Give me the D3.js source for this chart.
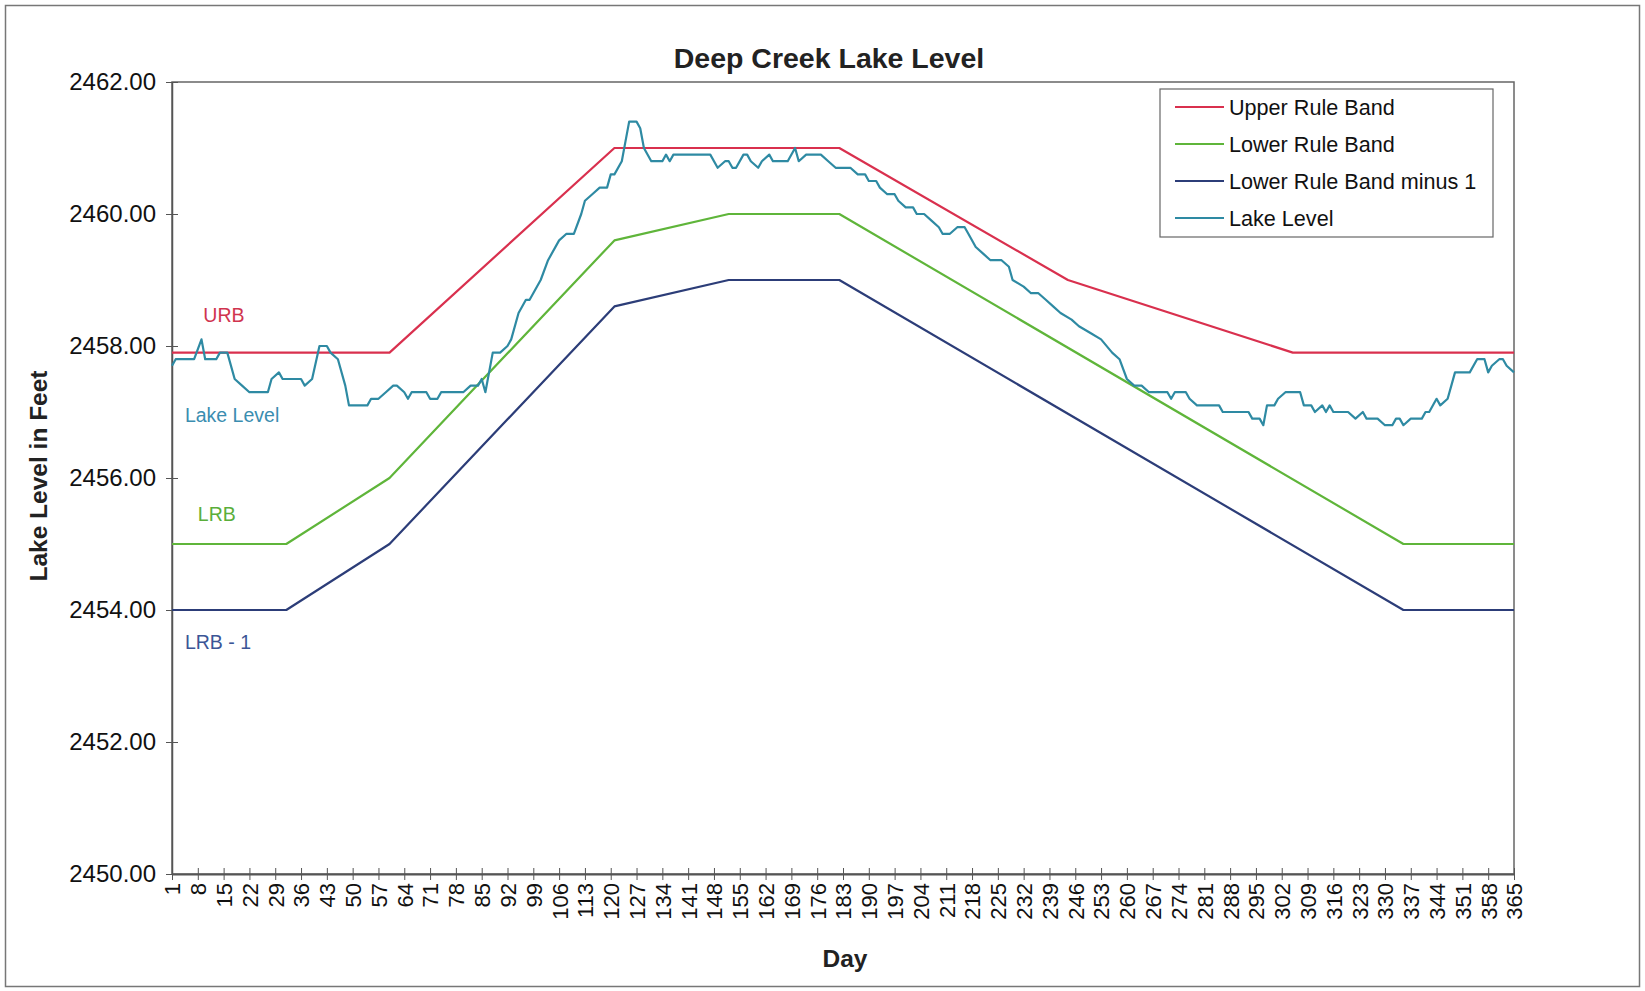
<!DOCTYPE html>
<html>
<head>
  <meta charset="UTF-8">
  <script src="https://d3js.org/d3.v7.min.js"></script>
  <style>
    body { margin: 0; background: #fff; }
    .axis path, .axis line { stroke: #555; }
  </style>
</head>
<body>
  <div id="chart"></div>
  <script>
    // x axis tick labels (day of year)
    const dayTicks = [1, 8, 15, 22, 29, 36, 43, 50, 57, 64, 71, 78, 85, 92, 99, 106, 113, 120, 127, 134,
      141, 148, 155, 162, 169, 176, 183, 190, 197, 204, 211, 218, 225, 232, 239, 246, 253, 260, 267, 274,
      281, 288, 295, 302, 309, 316, 323, 330, 337, 344, 351, 358, 365];
    const levelTicks = [2450, 2452, 2454, 2456, 2458, 2460, 2462];

    // rule bands
    const urbDays = [1, 60, 121, 182, 244, 305, 365];
    const urbLevels = [2457.9, 2457.9, 2461.0, 2461.0, 2459.0, 2457.9, 2457.9];
    const lrbDays = [1, 32, 60, 121, 152, 182, 335, 365];
    const lrbLevels = [2455.0, 2455.0, 2456.0, 2459.6, 2460.0, 2460.0, 2455.0, 2455.0];
    const lrb1Levels = [2454.0, 2454.0, 2455.0, 2458.6, 2459.0, 2459.0, 2454.0, 2454.0];

    // lake level
    const lakeDays = [1, 2, 7, 9, 10, 13, 14, 16, 18, 20, 22, 27, 28, 30, 31, 36, 37, 39, 41, 43,
      44, 46, 48, 49, 54, 55, 57, 59, 61, 62, 64, 65, 66, 70, 71, 73, 74, 80, 82, 84,
      85, 86, 88, 90, 92, 93, 95, 97, 98, 101, 103, 106, 108, 110, 112, 113, 115, 117, 119, 120,
      121, 123, 124, 125, 127, 128, 129, 131, 134, 135, 136, 137, 147, 149, 151, 152, 153, 154, 156, 157,
      158, 160, 161, 163, 164, 168, 170, 171, 173, 177, 179, 181, 185, 187, 189, 190, 192, 193, 195, 197,
      198, 200, 202, 203, 205, 207, 209, 210, 212, 214, 216, 217, 219, 221, 223, 226, 228, 229, 232, 234,
      236, 238, 240, 242, 245, 247, 250, 253, 256, 258, 260, 262, 264, 266, 271, 272, 273, 276, 277, 279,
      285, 286, 293, 294, 296, 297, 298, 300, 301, 303, 307, 308, 310, 311, 313, 314, 315, 316, 320, 322,
      324, 325, 328, 330, 332, 333, 334, 335, 337, 340, 341, 342, 344, 345, 347, 348, 349, 353, 355, 357,
      358, 359, 361, 362, 363, 365];
    const lakeLevels = [2457.7, 2457.8, 2457.8, 2458.1, 2457.8, 2457.8, 2457.9, 2457.9, 2457.5, 2457.4, 2457.3, 2457.3, 2457.5, 2457.6, 2457.5, 2457.5, 2457.4, 2457.5, 2458.0, 2458.0,
      2457.9, 2457.8, 2457.4, 2457.1, 2457.1, 2457.2, 2457.2, 2457.3, 2457.4, 2457.4, 2457.3, 2457.2, 2457.3, 2457.3, 2457.2, 2457.2, 2457.3, 2457.3, 2457.4, 2457.4,
      2457.5, 2457.3, 2457.9, 2457.9, 2458.0, 2458.1, 2458.5, 2458.7, 2458.7, 2459.0, 2459.3, 2459.6, 2459.7, 2459.7, 2460.0, 2460.2, 2460.3, 2460.4, 2460.4, 2460.6,
      2460.6, 2460.8, 2461.1, 2461.4, 2461.4, 2461.3, 2461.0, 2460.8, 2460.8, 2460.9, 2460.8, 2460.9, 2460.9, 2460.7, 2460.8, 2460.8, 2460.7, 2460.7, 2460.9, 2460.9,
      2460.8, 2460.7, 2460.8, 2460.9, 2460.8, 2460.8, 2461.0, 2460.8, 2460.9, 2460.9, 2460.8, 2460.7, 2460.7, 2460.6, 2460.6, 2460.5, 2460.5, 2460.4, 2460.3, 2460.3,
      2460.2, 2460.1, 2460.1, 2460.0, 2460.0, 2459.9, 2459.8, 2459.7, 2459.7, 2459.8, 2459.8, 2459.7, 2459.5, 2459.4, 2459.3, 2459.3, 2459.2, 2459.0, 2458.9, 2458.8,
      2458.8, 2458.7, 2458.6, 2458.5, 2458.4, 2458.3, 2458.2, 2458.1, 2457.9, 2457.8, 2457.5, 2457.4, 2457.4, 2457.3, 2457.3, 2457.2, 2457.3, 2457.3, 2457.2, 2457.1,
      2457.1, 2457.0, 2457.0, 2456.9, 2456.9, 2456.8, 2457.1, 2457.1, 2457.2, 2457.3, 2457.3, 2457.1, 2457.1, 2457.0, 2457.1, 2457.0, 2457.1, 2457.0, 2457.0, 2456.9,
      2457.0, 2456.9, 2456.9, 2456.8, 2456.8, 2456.9, 2456.9, 2456.8, 2456.9, 2456.9, 2457.0, 2457.0, 2457.2, 2457.1, 2457.2, 2457.4, 2457.6, 2457.6, 2457.8, 2457.8,
      2457.6, 2457.7, 2457.8, 2457.8, 2457.7, 2457.6];

    const width = 1645;
    const height = 991;
    const margin = { top: 82, right: 131, bottom: 117, left: 172 };
    const innerWidth = width - margin.left - margin.right;
    const innerHeight = height - margin.top - margin.bottom;
    const font = '"Liberation Sans", Arial, sans-serif';

    const svg = d3.select('#chart')
      .append('svg')
      .attr('width', width)
      .attr('height', height)
      .attr('font-family', font)
      .style('display', 'block');

    // outer frame
    svg.append('rect')
      .attr('x', 5.5).attr('y', 5.5)
      .attr('width', width - 11).attr('height', height - 10)
      .attr('fill', 'none')
      .attr('stroke', '#777')
      .attr('stroke-width', 1.5);

    const g = svg.append('g')
      .attr('transform', `translate(${margin.left},${margin.top})`);

    const x = d3.scaleLinear().domain([1, 365]).range([0, innerWidth]);
    const y = d3.scaleLinear().domain([2450, 2462]).range([innerHeight, 0]);

    // plot area box
    g.append('rect')
      .attr('width', innerWidth)
      .attr('height', innerHeight)
      .attr('fill', 'none')
      .attr('stroke', '#666')
      .attr('stroke-width', 1.5);

    const xAxis = g.append('g')
      .attr('class', 'axis')
      .attr('transform', `translate(0,${innerHeight})`)
      .call(d3.axisBottom(x).tickValues(dayTicks).tickSize(0).tickFormat(d3.format('d')));
    xAxis.attr('font-size', 22).attr('font-family', font).attr('text-anchor', 'end');
    xAxis.select('.domain').attr('stroke-width', 2);
    xAxis.selectAll('.tick line').attr('y1', -6).attr('y2', 6);
    xAxis.selectAll('.tick text')
      .attr('transform', 'translate(0,9) rotate(-90)')
      .attr('x', 0)
      .attr('y', 0)
      .attr('dy', '0.36em')
      .attr('text-anchor', 'end')
      .attr('fill', '#111');

    const yAxis = g.append('g')
      .attr('class', 'axis')
      .call(d3.axisLeft(y).tickValues(levelTicks).tickSize(0).tickFormat(d3.format('.2f')));
    yAxis.attr('font-size', 24).attr('font-family', font);
    yAxis.select('.domain').attr('stroke-width', 1.5);
    yAxis.selectAll('.tick line').attr('x1', -6).attr('x2', 6);
    yAxis.selectAll('.tick text')
      .attr('x', -16)
      .attr('fill', '#111');

    const line = d3.line()
      .x(d => x(d[0]))
      .y(d => y(d[1]));

    const series = [
      { days: urbDays, levels: urbLevels, color: '#d9304e' },
      { days: lrbDays, levels: lrbLevels, color: '#5fb53a' },
      { days: lrbDays, levels: lrb1Levels, color: '#2c3d78' },
      { days: lakeDays, levels: lakeLevels, color: '#2e8aa3' }
    ];

    series.forEach(s => {
      g.append('path')
        .datum(d3.zip(s.days, s.levels))
        .attr('fill', 'none')
        .attr('stroke', s.color)
        .attr('stroke-width', 2.2)
        .attr('stroke-linejoin', 'round')
        .attr('d', line);
    });

    // inline series labels
    const notes = [
      { text: 'URB', day: 9.5, level: 2458.36, color: '#d0344f' },
      { text: 'Lake Level', day: 4.5, level: 2456.85, color: '#3a8db0' },
      { text: 'LRB', day: 8, level: 2455.35, color: '#5aae3a' },
      { text: 'LRB - 1', day: 4.5, level: 2453.41, color: '#3b5596' }
    ];
    g.selectAll('.note')
      .data(notes)
      .enter()
      .append('text')
      .attr('class', 'note')
      .attr('x', d => x(d.day))
      .attr('y', d => y(d.level))
      .attr('fill', d => d.color)
      .attr('font-size', 19.5)
      .text(d => d.text);

    // legend
    const legend = svg.append('g').attr('transform', 'translate(1160,89)');
    legend.append('rect')
      .attr('width', 333)
      .attr('height', 148)
      .attr('fill', '#fff')
      .attr('stroke', '#666')
      .attr('stroke-width', 1.2);
    const legendNames = ['Upper Rule Band', 'Lower Rule Band', 'Lower Rule Band minus 1', 'Lake Level'];
    legendNames.forEach((name, i) => {
      const row = legend.append('g').attr('transform', `translate(0,${18 + i * 37})`);
      row.append('line')
        .attr('x1', 15).attr('x2', 64)
        .attr('stroke', series[i].color)
        .attr('stroke-width', 2.2);
      row.append('text')
        .attr('x', 69)
        .attr('dy', '0.36em')
        .attr('fill', '#111')
        .attr('font-size', 21.6)
        .text(name);
    });

    svg.append('text')
      .attr('x', 829)
      .attr('y', 68)
      .attr('text-anchor', 'middle')
      .attr('font-size', 28.5)
      .attr('font-weight', 700)
      .attr('fill', '#222')
      .text('Deep Creek Lake Level');

    svg.append('text')
      .attr('transform', 'translate(47,476) rotate(-90)')
      .attr('text-anchor', 'middle')
      .attr('font-size', 24.5)
      .attr('font-weight', 700)
      .attr('fill', '#222')
      .text('Lake Level in Feet');

    svg.append('text')
      .attr('x', 845)
      .attr('y', 967)
      .attr('text-anchor', 'middle')
      .attr('font-size', 24.5)
      .attr('font-weight', 700)
      .attr('fill', '#222')
      .text('Day');
  </script>
</body>
</html>
